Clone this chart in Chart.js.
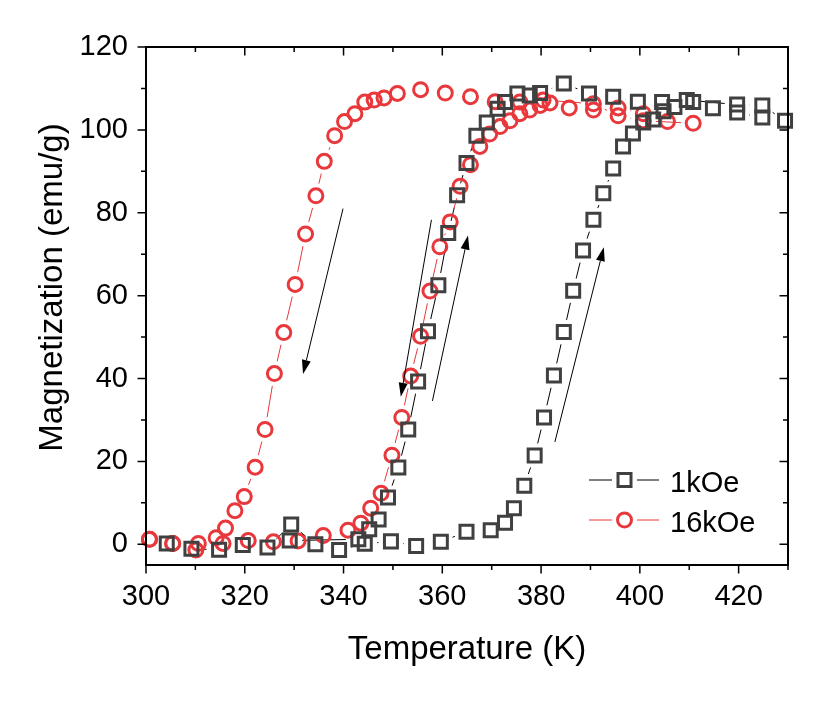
<!DOCTYPE html>
<html>
<head>
<meta charset="utf-8">
<script src="https://cdn.jsdelivr.net/npm/chart.js@4.4.0/dist/chart.umd.min.js"></script>
<style>
  html, body { margin: 0; padding: 0; background: #fff; }
  #wrap { width: 819px; height: 704px; }
</style>
</head>
<body>
<div id="wrap"><canvas id="chart" width="819" height="704"></canvas></div>
<script>
// 1 kOe, heating branch (K, emu/g)
const tempHeat1k = [304.2, 309.2, 314.8, 319.6, 324.6, 329.4, 334.3, 339.1, 344.3, 349.6, 354.7, 359.7, 364.9,
  369.8, 372.7, 374.5, 376.6, 378.7, 380.6, 382.6, 384.6, 386.5, 388.5, 390.6, 392.6, 394.6, 396.6, 398.6,
  400.7, 402.7, 404.8, 407.0, 410.8, 414.8, 419.7, 424.8, 429.4];
const magHeat1k = [0.2, -1.1, -1.3, -0.2, -0.8, 4.8, 0.0, -1.4, 0.1, 0.7, -0.4, 0.6, 3.0,
  3.4, 5.2, 8.7, 14.1, 21.4, 30.6, 40.7, 51.2, 61.2, 70.9, 78.3, 84.7, 90.7, 96.0, 99.1,
  101.8, 102.5, 104.5, 105.5, 106.7, 105.2, 104.2, 103.0, 102.2];

// 1 kOe, cooling branch
const tempCool1k = [424.8, 419.7, 409.5, 404.5, 399.6, 394.6, 389.7, 384.6, 379.8, 377.7, 375.2, 372.7, 371.2,
  369.0, 366.9, 364.9, 363.0, 361.2, 359.2, 357.1, 355.1, 353.1, 351.1, 349.0, 347.1, 345.2, 343.0, 329.1];
const magCool1k = [105.9, 106.1, 107.2, 106.7, 106.8, 108.0, 108.8, 111.2, 108.9, 108.3, 108.8, 106.7, 105.1,
  101.8, 98.6, 92.0, 84.2, 75.1, 62.5, 51.4, 39.3, 27.7, 18.5, 11.3, 6.0, 3.6, 1.2, 0.9];

// 16 kOe, heating branch
const tempHeat16k = [300.7, 305.4, 310.6, 315.6, 320.7, 325.8, 330.8, 335.9, 340.9, 343.5, 345.5, 347.6, 349.8,
  351.8, 353.6, 355.6, 357.5, 359.5, 361.6, 363.6, 365.7, 367.6, 369.6, 371.7, 373.7, 375.7, 377.7, 379.8,
  381.8, 385.7, 390.6, 395.6, 400.7, 405.6, 410.8];
const magHeat16k = [1.2, 0.2, 0.2, 0.2, 0.9, 0.6, 0.8, 2.1, 3.4, 5.1, 8.7, 12.3, 21.5,
  30.6, 40.6, 50.2, 61.1, 71.8, 77.8, 86.4, 91.6, 96.0, 99.0, 100.8, 102.2, 103.9, 104.8, 105.9,
  106.5, 105.3, 104.8, 105.3, 103.9, 102.0, 101.6];

// 16 kOe, cooling branch
const tempCool16k = [400.7, 395.6, 390.6, 380.4, 375.7, 370.7, 365.7, 360.6, 355.6, 350.9, 348.2, 346.2, 344.3,
  342.3, 340.2, 338.2, 336.1, 334.4, 332.3, 330.2, 327.9, 326.0, 324.1, 322.1, 319.9, 318.0, 316.1, 314.2,
  310.1, 305.4, 300.7];
const magCool16k = [102.2, 103.4, 106.3, 107.2, 106.7, 106.8, 108.0, 108.9, 109.7, 108.8, 107.7, 107.2, 106.7,
  103.9, 102.0, 98.6, 92.4, 84.1, 74.9, 62.7, 51.1, 41.2, 27.7, 18.6, 11.5, 8.1, 3.9, 1.6,
  -1.4, 0.2, 1.2];

const seriesLabels = ['1kOe', '16kOe'];

// axis ticks
const xTicks = [300, 320, 340, 360, 380, 400, 420];
const xMinorTicks = [310, 330, 350, 370, 390, 410, 430];
const yTicks = [0, 20, 40, 60, 80, 100, 120];
const yMinorTicks = [10, 30, 50, 70, 90, 110];

// arrows (tail T, tail M) -> (head T, head M)
const arrowFromT = [339.9, 357.8, 358.0, 382.8];
const arrowFromM = [81.0, 78.3, 34.6, 24.7];
const arrowToT = [331.8, 351.6, 365.2, 392.7];
const arrowToM = [41.1, 35.6, 74.5, 71.7];

const FONT = "'Liberation Sans', Arial, sans-serif";
const DARK = '#404040';
const RED = '#e8383c';
const SQ_R = 9.2;   // chart.js rect radius (side = r * sqrt2)
const CIRC_R = 7;

function toPoints(ts, ms) {
  return ts.map((t, i) => ({ x: t, y: ms[i] }));
}

// marker outline for the legend, same sizes as the data
function drawMarker(ctx, style, x, y, color) {
  ctx.save();
  ctx.strokeStyle = color;
  ctx.lineWidth = 3;
  ctx.beginPath();
  if (style === 'rect') {
    const h = SQ_R * Math.SQRT1_2;
    ctx.rect(x - h, y - h, 2 * h, 2 * h);
  } else {
    ctx.arc(x, y, CIRC_R, 0, Math.PI * 2);
  }
  ctx.stroke();
  ctx.restore();
}

// line between two points, cut back around the symbols
function gapLine(ctx, x0, y0, x1, y1, gap) {
  const dx = x1 - x0, dy = y1 - y0;
  const len = Math.sqrt(dx * dx + dy * dy);
  if (len <= 2 * gap) return;
  const ux = dx / len, uy = dy / len;
  ctx.beginPath();
  ctx.moveTo(x0 + ux * gap, y0 + uy * gap);
  ctx.lineTo(x1 - ux * gap, y1 - uy * gap);
  ctx.stroke();
}

const figurePlugin = {
  id: 'figure',
  beforeDatasetsDraw(chart) {
    const ctx = chart.ctx;
    ctx.save();
    ctx.lineWidth = 1;
    chart.data.datasets.forEach((ds, di) => {
      const pts = chart.getDatasetMeta(di).data;
      ctx.strokeStyle = ds.lineColor;
      for (let i = 1; i < pts.length; i++) {
        gapLine(ctx, pts[i - 1].x, pts[i - 1].y, pts[i].x, pts[i].y, 12.5);
      }
    });
    ctx.restore();
  },
  afterDatasetsDraw(chart) {
    const ctx = chart.ctx;
    const xs = chart.scales.x, ys = chart.scales.y;
    ctx.save();
    ctx.strokeStyle = '#000';
    ctx.fillStyle = '#000';
    ctx.lineWidth = 1;
    arrowFromT.forEach((t, i) => {
      const x0 = xs.getPixelForValue(t), y0 = ys.getPixelForValue(arrowFromM[i]);
      const x1 = xs.getPixelForValue(arrowToT[i]), y1 = ys.getPixelForValue(arrowToM[i]);
      const ang = Math.atan2(y1 - y0, x1 - x0);
      const headLen = 14, headW = 4.5;
      const bx = x1 - Math.cos(ang) * headLen, by = y1 - Math.sin(ang) * headLen;
      ctx.beginPath();
      ctx.moveTo(x0, y0);
      ctx.lineTo(bx, by);
      ctx.stroke();
      ctx.beginPath();
      ctx.moveTo(x1, y1);
      ctx.lineTo(bx + Math.sin(ang) * headW, by - Math.cos(ang) * headW);
      ctx.lineTo(bx - Math.sin(ang) * headW, by + Math.cos(ang) * headW);
      ctx.closePath();
      ctx.fill();
    });
    ctx.restore();
  },
  afterDraw(chart) {
    const ctx = chart.ctx;
    const a = chart.chartArea;
    const xs = chart.scales.x, ys = chart.scales.y;
    ctx.save();
    ctx.strokeStyle = '#000';
    ctx.lineWidth = 2;
    ctx.strokeRect(a.left, a.top, a.right - a.left, a.bottom - a.top);

    ctx.lineWidth = 1.5;
    ctx.beginPath();
    const tickX = (v, len) => {
      const px = xs.getPixelForValue(v);
      ctx.moveTo(px, a.bottom); ctx.lineTo(px, a.bottom + len);
      ctx.moveTo(px, a.top); ctx.lineTo(px, a.top + len);
    };
    const tickY = (v, len) => {
      const py = ys.getPixelForValue(v);
      ctx.moveTo(a.left, py); ctx.lineTo(a.left - len, py);
      ctx.moveTo(a.right, py); ctx.lineTo(a.right - len, py);
    };
    xTicks.forEach(v => tickX(v, 8.5));
    xMinorTicks.forEach(v => tickX(v, 5));
    yTicks.forEach(v => tickY(v, 8.5));
    yMinorTicks.forEach(v => tickY(v, 5));
    ctx.stroke();

    // axis titles
    ctx.fillStyle = '#000';
    ctx.font = '33px ' + FONT;
    ctx.textAlign = 'center';
    ctx.textBaseline = 'alphabetic';
    ctx.fillText('Temperature (K)', (a.left + a.right) / 2, 659);
    ctx.save();
    ctx.translate(62, 287.5);
    ctx.rotate(-Math.PI / 2);
    ctx.fillText('Magnetization (emu/g)', 0, 0);
    ctx.restore();

    // legend inside the plot
    const rows = [480, 520];
    chart.data.datasets.forEach((ds, di) => {
      const y = rows[di];
      const cx = 624.5;
      ctx.strokeStyle = ds.lineColor;
      ctx.lineWidth = 1;
      ctx.beginPath();
      ctx.moveTo(589, y); ctx.lineTo(cx - 12.5, y);
      ctx.moveTo(cx + 12.5, y); ctx.lineTo(659, y);
      ctx.stroke();
      drawMarker(ctx, ds.pointStyle, cx, y, ds.pointBorderColor);
      ctx.fillStyle = '#000';
      ctx.font = '29px ' + FONT;
      ctx.textAlign = 'left';
      ctx.fillText(ds.label, 670, y + 11.5);
    });
    ctx.restore();
  }
};

const ctx = document.getElementById('chart').getContext('2d');
new Chart(ctx, {
  type: 'scatter',
  data: {
    datasets: [
      {
        label: seriesLabels[0],
        data: toPoints(tempHeat1k.concat(tempCool1k), magHeat1k.concat(magCool1k)),
        showLine: false,
        lineColor: '#000',
        pointStyle: 'rect',
        pointRadius: SQ_R,
        pointBorderWidth: 3,
        pointBorderColor: DARK,
        pointBackgroundColor: 'rgba(0,0,0,0)',
        clip: false
      },
      {
        label: seriesLabels[1],
        data: toPoints(tempHeat16k.concat(tempCool16k), magHeat16k.concat(magCool16k)),
        showLine: false,
        lineColor: RED,
        pointStyle: 'circle',
        pointRadius: CIRC_R,
        pointBorderWidth: 3,
        pointBorderColor: RED,
        pointBackgroundColor: 'rgba(0,0,0,0)',
        clip: false
      }
    ]
  },
  options: {
    responsive: false,
    animation: false,
    devicePixelRatio: 1,
    layout: { padding: { top: 47, right: 31, bottom: 0, left: 0 } },
    plugins: {
      legend: { display: false },
      tooltip: { enabled: false }
    },
    scales: {
      x: {
        type: 'linear',
        min: 300,
        max: 430,
        grid: { display: false, drawTicks: false },
        border: { display: false },
        afterBuildTicks: s => { s.ticks = xTicks.map(v => ({ value: v })); },
        afterFit: s => { s.height = 139; },
        ticks: {
          color: '#000',
          padding: 15,
          maxRotation: 0,
          autoSkip: false,
          font: { family: FONT, size: 29 }
        }
      },
      y: {
        type: 'linear',
        min: -5,
        max: 120,
        grid: { display: false, drawTicks: false },
        border: { display: false },
        afterBuildTicks: s => { s.ticks = yTicks.map(v => ({ value: v })); },
        afterFit: s => { s.width = 146; },
        ticks: {
          color: '#000',
          padding: 18,
          autoSkip: false,
          font: { family: FONT, size: 29 }
        }
      }
    }
  },
  plugins: [figurePlugin]
});
</script>
</body>
</html>
